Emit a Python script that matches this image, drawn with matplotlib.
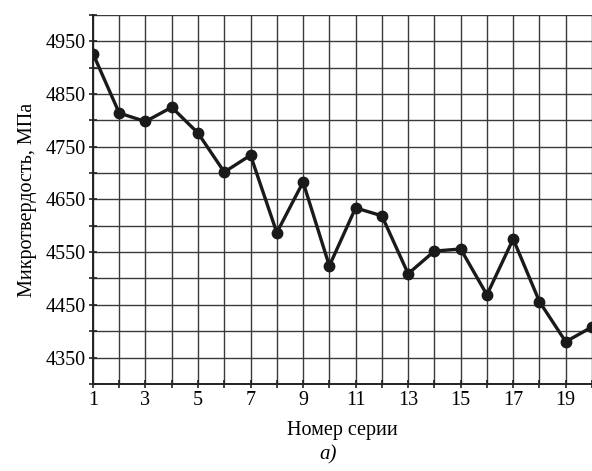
import matplotlib
matplotlib.use('Agg')
import matplotlib.pyplot as plt
import numpy as np

series = list(range(1, 21))
hardness = [4927, 4814, 4798, 4825, 4776, 4702, 4734, 4587, 4683, 4524,
            4634, 4619, 4509, 4552, 4556, 4469, 4575, 4456, 4380, 4408]
xtick_labels = ['1', '3', '5', '7', '9', '11', '13', '15', '17', '19']

plt.rcParams['font.family'] = ['Liberation Serif', 'DejaVu Serif']


def main():
	fig = plt.figure(figsize=(5.92, 4.71), dpi=100)
	ax = fig.add_axes([0.157, 0.185, 0.843, 0.783])

	ax.plot(series, hardness, color='#1a1a1a', lw=2.4, marker='o', ms=7.5,
		clip_on=True, zorder=3)

	ax.set_xlim(1, 20)
	ax.set_ylim(4300, 5000)
	ax.set_xticks(series)
	ax.set_xticklabels([str(s) if str(s) in xtick_labels else '' for s in series])
	ax.set_yticks(np.arange(4300, 5001, 50))
	ax.set_yticklabels([str(v) if v % 100 == 50 else '' for v in range(4300, 5001, 50)])
	ax.grid(True, color='#3a3a3a', lw=1.0)
	ax.tick_params(direction='inout', length=6, width=1.2, labelsize=14.5,
		color='#222222', pad=2)

	for side in ['top', 'right']:
		ax.spines[side].set_visible(False)
	for side in ['left', 'bottom']:
		ax.spines[side].set_color('#222222')
		ax.spines[side].set_linewidth(1.4)

	ax.set_xlabel('Номер серии', fontsize=14.5, labelpad=8)
	ax.set_ylabel('Микротвердость, МПа', fontsize=14.5, labelpad=6)
	fig.text(0.555, 0.025, 'а)', fontsize=15, style='italic', ha='center')

	fig.savefig('out.png', dpi=100)


if __name__ == '__main__':
	main()
